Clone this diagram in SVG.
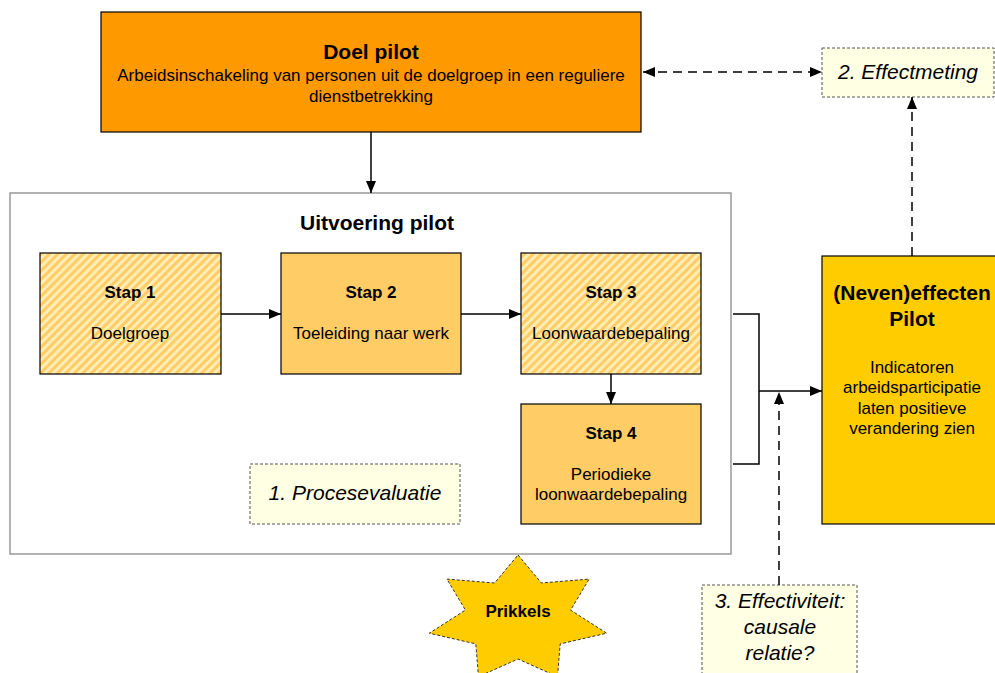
<svg xmlns="http://www.w3.org/2000/svg" width="995" height="673" viewBox="0 0 995 673">
<style>
text{font-family:"Liberation Sans",Arial,sans-serif;fill:#000;text-anchor:middle}
.t{font-weight:bold;font-size:21px}
.s{font-weight:bold;font-size:17px}
.b{font-size:17px}
.i{font-style:italic;font-size:21px}
.box{stroke:#000;stroke-width:1.2}
.note{fill:#FFFFE3;stroke:#555;stroke-width:1;stroke-dasharray:3 2}
.ln{fill:none;stroke:#000;stroke-width:1.5}
.dash{fill:none;stroke:#000;stroke-width:1.5;stroke-dasharray:9 6}
</style>
<defs>
<pattern id="hatch" width="6" height="6" patternUnits="userSpaceOnUse" patternTransform="rotate(45)">
<rect width="6" height="6" fill="#FFCC66"/>
<rect width="3" height="6" fill="#FFEDB5"/>
</pattern>
<marker id="ah" viewBox="0 0 12 10" refX="12" refY="5" markerWidth="12" markerHeight="10" markerUnits="userSpaceOnUse" orient="auto-start-reverse">
<path d="M0,0 L12,5 L0,10 z" fill="#000"/>
</marker>
</defs>
<rect width="995" height="673" fill="#fff"/>

<g id="uitvoering">
<rect x="10" y="193" width="721" height="361" fill="#fff" stroke="#999" stroke-width="1.5"/>
<text class="t" x="377" y="230">Uitvoering pilot</text>
</g>

<g id="doel">
<rect class="box" x="101" y="12" width="540" height="120" fill="#FF9900"/>
<text class="t" x="371" y="59">Doel pilot</text>
<text class="b" x="371" y="81">Arbeidsinschakeling van personen uit de doelgroep in een reguliere</text>
<text class="b" x="371" y="102">dienstbetrekking</text>
</g>

<g id="stap1">
<rect class="box" x="40" y="253" width="181" height="121" fill="url(#hatch)"/>
<text class="s" x="130" y="298">Stap 1</text>
<text class="b" x="130" y="339">Doelgroep</text>
</g>
<g id="stap2">
<rect class="box" x="281" y="253" width="180" height="121" fill="#FFCC66"/>
<text class="s" x="371" y="298">Stap 2</text>
<text class="b" x="371" y="339">Toeleiding naar werk</text>
</g>
<g id="stap3">
<rect class="box" x="521" y="253" width="180" height="121" fill="url(#hatch)"/>
<text class="s" x="611" y="298">Stap 3</text>
<text class="b" x="611" y="339">Loonwaardebepaling</text>
</g>
<g id="stap4">
<rect class="box" x="521" y="404" width="180" height="120" fill="#FFCC66"/>
<text class="s" x="611" y="439">Stap 4</text>
<text class="b" x="611" y="480">Periodieke</text>
<text class="b" x="611" y="500">loonwaardebepaling</text>
</g>

<g id="procesevaluatie">
<rect class="note" x="250" y="464" width="210" height="60"/>
<text class="i" x="355" y="500">1. Procesevaluatie</text>
</g>

<g id="effectmeting">
<rect class="note" x="822" y="48" width="172" height="49"/>
<text class="i" x="908" y="79">2. Effectmeting</text>
</g>

<g id="neveneffecten">
<rect class="box" x="822" y="256" width="180" height="268" fill="#FFCC00"/>
<text class="t" x="912" y="300">(Neven)effecten</text>
<text class="t" x="912" y="326">Pilot</text>
<text class="b" x="912" y="373">Indicatoren</text>
<text class="b" x="912" y="393">arbeidsparticipatie</text>
<text class="b" x="912" y="414">laten positieve</text>
<text class="b" x="912" y="434">verandering zien</text>
</g>

<g id="effectiviteit">
<rect class="note" x="702" y="585" width="155" height="95"/>
<text class="i" x="780" y="608">3. Effectiviteit:</text>
<text class="i" x="780" y="634">causale</text>
<text class="i" x="780" y="660">relatie?</text>
</g>

<g id="prikkels">
<polygon points="518,555 541.4,583 589.1,579.1 570.6,610.1 606.7,633.2 560.2,643.9 557.5,676.7 518,659 478.5,676.7 475.8,643.9 429.3,633.2 465.4,610.1 446.9,579.1 494.6,583" fill="#FFCC00" stroke="#333" stroke-width="1" stroke-dasharray="3 2"/>
<text class="s" x="518" y="617">Prikkels</text>
</g>

<g id="connectors">
<line class="ln" x1="371" y1="132" x2="371" y2="193" marker-end="url(#ah)"/>
<line class="ln" x1="221" y1="314" x2="281" y2="314" marker-end="url(#ah)"/>
<line class="ln" x1="461" y1="314" x2="521" y2="314" marker-end="url(#ah)"/>
<line class="ln" x1="611" y1="374" x2="611" y2="404" marker-end="url(#ah)"/>
<polyline class="ln" points="733,314 759,314 759,464 733,464"/>
<line class="ln" x1="759" y1="391" x2="822" y2="391" marker-end="url(#ah)"/>
<line class="dash" x1="779" y1="585" x2="779" y2="392" marker-end="url(#ah)"/>
<line class="dash" x1="643" y1="72" x2="822" y2="72" marker-start="url(#ah)" marker-end="url(#ah)"/>
<line class="dash" x1="912" y1="256" x2="912" y2="97" marker-end="url(#ah)"/>
</g>
</svg>
